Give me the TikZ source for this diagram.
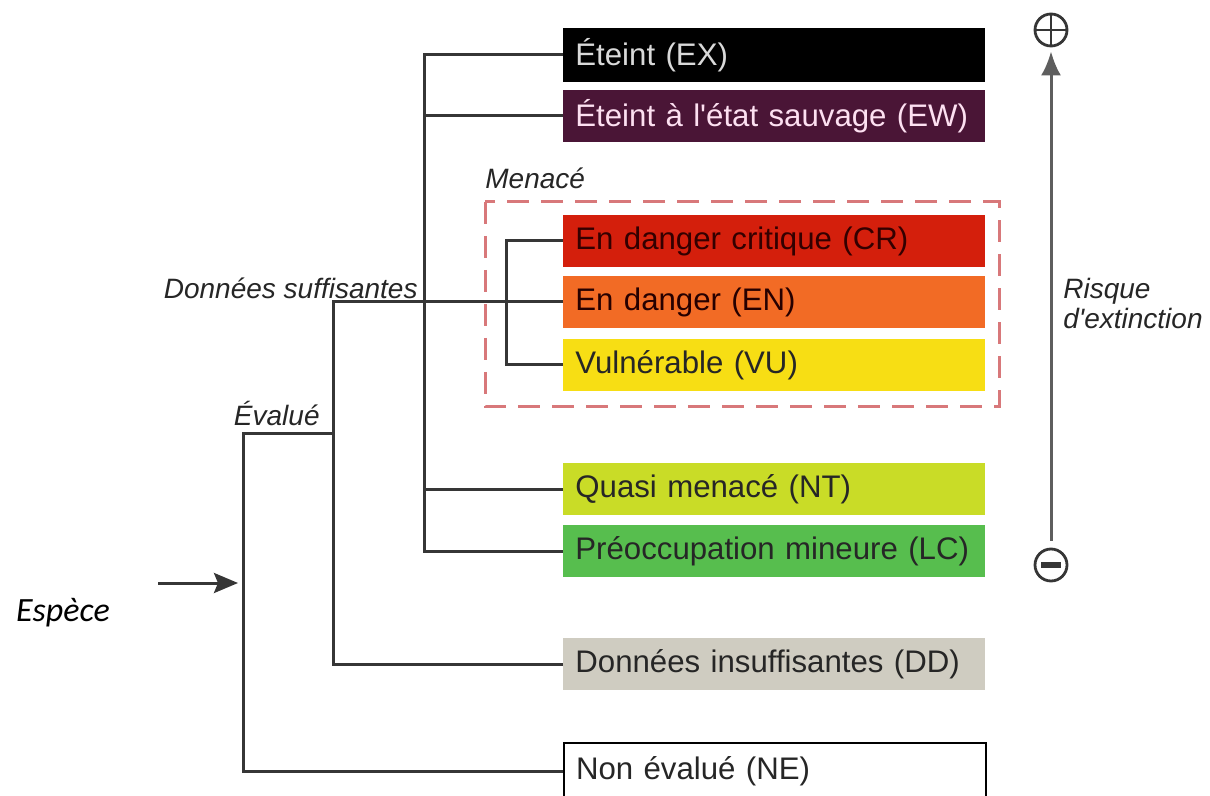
\documentclass[tikz,border=0pt]{standalone}
\usepackage{fontspec}
\setmainfont{Liberation Sans}
\newfontfamily\especeFont{Carlito}
\usetikzlibrary{arrows.meta}
\definecolor{colEX}{HTML}{000000}
\definecolor{colEW}{HTML}{4A1536}
\definecolor{colCR}{HTML}{D41F0C}
\definecolor{colEN}{HTML}{F26B25}
\definecolor{colVU}{HTML}{F7DE14}
\definecolor{colNT}{HTML}{C9DC27}
\definecolor{colLC}{HTML}{57BE4E}
\definecolor{colDD}{HTML}{CFCCC1}
\definecolor{lineGrey}{HTML}{363636}
\definecolor{threatRed}{HTML}{D8787A}
\newcommand{\boxFont}[0]{\fontsize{15.6}{18}\selectfont}
\newcommand{\labelFont}[0]{\fontsize{14}{15}\selectfont\itshape}

\begin{document}
\begin{tikzpicture}[x=0.5pt, y=-0.5pt]
  \tikzset{category/.style={anchor=west, minimum height=26pt, text width=199pt, inner xsep=6pt, inner ysep=0pt, align=left, font=\boxFont, text=black!85},
    branch/.style={draw=lineGrey, line width=1.5pt},
    caption/.style={font=\labelFont, text=black!85, inner sep=0pt},
    sign/.style={circle, draw=lineGrey, line width=1.4pt, minimum size=16pt, inner sep=0pt}}
  \useasboundingbox (0,0) rectangle (1210,796);
  \node[category, fill=colEX, text=white!85!black, minimum height=27pt] (EX) at (563,55) {Éteint (EX)};
  \node[category, fill=colEW, text=white!88!magenta] (EW) at (563,116) {Éteint à l\textquotesingle état sauvage (EW)};
  \node[category, fill=colCR, text=black!80!red] (CR) at (563,241) {En danger critique (CR)};
  \node[category, fill=colEN, text=black!85!red] (EN) at (563,302) {En danger (EN)};
  \node[category, fill=colVU] (VU) at (563,365) {Vulnérable (VU)};
  \node[category, fill=colNT] (NT) at (563,489) {Quasi menacé (NT)};
  \node[category, fill=colLC] (LC) at (563,551) {Préoccupation mineure (LC)};
  \node[category, fill=colDD] (DD) at (563,664) {Données insuffisantes (DD)};
  \node[category, fill=white, draw=black, line width=1pt, minimum height=28pt] (NE) at (563,771) {Non évalué (NE)};
  \draw[threatRed, line width=1.5pt, dash pattern=on 11pt off 6pt] (485,202) rectangle (999,407);
  \node[caption, anchor=west] (menace) at (485,178) {Menacé};
  \node[caption, anchor=east] (suff) at (418,288) {Données suffisantes};
  \node[caption, anchor=east] (evalue) at (320,413) {Évalué};
  \node[anchor=center, inner sep=0pt, font=\especeFont\fontsize{17}{18}\selectfont\itshape] (espece) at (63,613) {Espèce};
  \coordinate (rootX) at (243,0);
  \coordinate (suffX) at (333,0);
  \coordinate (extX) at (424,0);
  \coordinate (threatX) at (506,0);
  \coordinate (evalKnee) at (243,434);
  \coordinate (entryStart) at (158,583);
  \coordinate (entryEnd) at (238,583);
  \draw[branch] (NE.west) -| (evalKnee) -- (evalKnee -| suffX);
  \draw[branch] (EN.west) -| (suffX |- DD.west) -- (DD.west);
  \draw[branch] (EX.west) -| (extX |- LC.west) -- (LC.west);
  \draw[branch] (EW.west) -- (extX |- EW.west);
  \draw[branch] (NT.west) -- (extX |- NT.west);
  \draw[branch] (CR.west) -| (threatX |- VU.west) -- (VU.west);
  \draw[branch, -{Stealth[length=12pt, width=10pt, inset=2pt]}] (entryStart) -- (entryEnd);
  \node[sign, path picture={\draw[lineGrey, line width=1.4pt] (path picture bounding box.west) -- (path picture bounding box.east) (path picture bounding box.north) -- (path picture bounding box.south);}] (plus) at (1051,30) {};
  \node[sign, path picture={\draw[lineGrey, line width=2.6pt] ([xshift=3pt]path picture bounding box.west) -- ([xshift=-3pt]path picture bounding box.east);}] (minus) at (1051,565) {};
  \draw[branch, draw=lineGrey!80, -{Latex[length=12pt, width=10pt]}] ([yshift=3.5pt]minus.north) -- ([yshift=-2pt]plus.south);
  \node[caption, anchor=west, align=left] (risque) at (1063,304) {Risque\\d\textquotesingle extinction};
\end{tikzpicture}
\end{document}
